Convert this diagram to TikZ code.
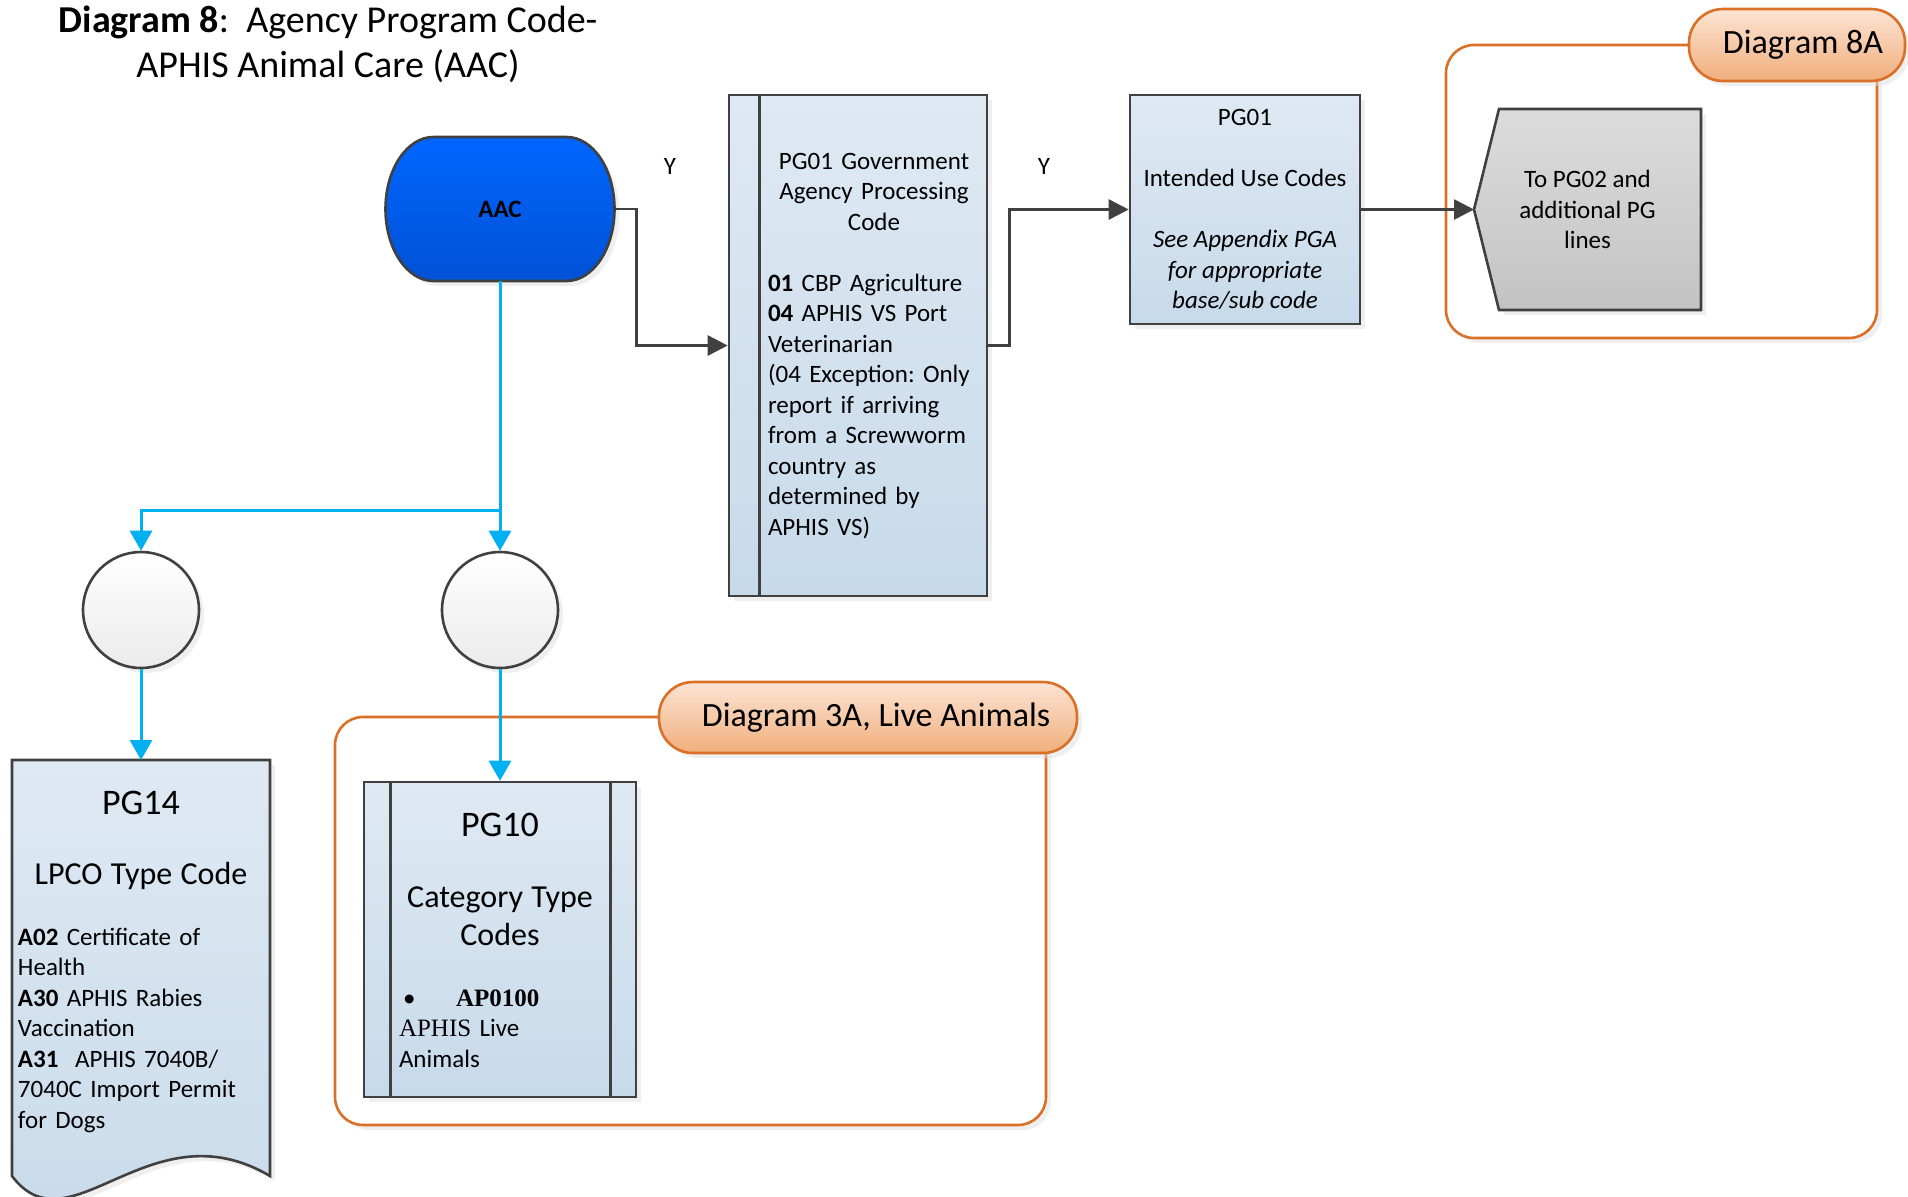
\documentclass[tikz,border=0pt]{standalone}
\usepackage{fontspec}
\setmainfont{Carlito}
\newfontfamily\timesfont{Liberation Serif}
\usetikzlibrary{arrows.meta,positioning,shadows}
\frenchspacing

\definecolor{ink}{HTML}{404040}
\definecolor{flow}{HTML}{00B0F0}
\definecolor{rim}{HTML}{DA7028}
\definecolor{boxtop}{HTML}{DFE9F3}
\definecolor{boxbot}{HTML}{C7DAEA}
\definecolor{tabtop}{HTML}{FCE4D4}
\definecolor{tabbot}{HTML}{F0AE7C}
\definecolor{aactop}{HTML}{0066FF}
\definecolor{aacbot}{HTML}{0052D6}
\definecolor{greytop}{HTML}{DCDCDC}
\definecolor{greybot}{HTML}{C3C3C3}

\begin{document}
\begin{tikzpicture}[x=0.5pt,y=-0.5pt,
  font=\fontsize{12.5}{15.25}\selectfont,
  lift/.style={drop shadow={shadow xshift=2.5pt,shadow yshift=-2.5pt,fill=black!12}},
  box/.style={draw=ink,line width=1.3pt,top color=boxtop,bottom color=boxbot,lift},
  zone/.style={draw=rim,line width=1.3pt,fill=white,rounded corners=14pt,lift},
  banner/.style={draw=rim,line width=1.3pt,top color=tabtop,bottom color=tabbot,rounded corners=17pt,font=\fontsize{17}{20}\selectfont,lift},
  knot/.style={circle,draw=ink,line width=1.3pt,top color=white,bottom color=black!8,minimum size=58pt,inner sep=0,lift},
  grip/.style={inner sep=0,outer sep=0},
  link/.style={draw=ink,line width=1.35pt,-{Triangle[length=10pt,width=10pt]}},
  flowline/.style={draw=flow,line width=1.5pt,-{Triangle[length=10pt,width=11pt]}}]

\useasboundingbox (0,0) rectangle (1908,1196);

\node[align=center,font=\fontsize{19}{22.5}\selectfont] (title) at (328,44) {{\bfseries Diagram 8}:\ \ Agency Program Code-\\APHIS Animal Care (AAC)};

\node[zone,minimum width=215.5pt,minimum height=146.5pt] (grp8a) at (1661.5,191.5) {};
\node[banner,minimum width=108pt,minimum height=36pt] (tab8a) at (1797,45) {\hspace*{6pt}Diagram 8A};
\node[zone,minimum width=355.5pt,minimum height=204pt] (grp3a) at (690.5,921) {};
\node[banner,minimum width=209pt,minimum height=35.5pt] (tab3a) at (868,717.5) {\hspace*{8pt}Diagram 3A, Live Animals};

\node[grip,minimum width=114.5pt,minimum height=72pt] (aac) at (500,209) {};
\shade[lift,draw=ink,line width=1.3pt,top color=aactop,bottom color=aacbot] ([xshift=24pt]aac.north west) -- ([xshift=-24pt]aac.north east) arc[start angle=90,end angle=-90,x radius=24pt,y radius=36pt] -- ([xshift=24pt]aac.south west) arc[start angle=270,end angle=90,x radius=24pt,y radius=36pt] -- cycle;
\node[font=\bfseries\fontsize{12.5}{15}\selectfont] (aactxt) at (aac) {AAC};

\node[box,minimum width=129pt,minimum height=250.5pt] (gapc) at (858,345.5) {};
\draw[ink,line width=1.3pt] ([xshift=16pt]gapc.north west) -- ([xshift=16pt]gapc.south west);
\node[text width=106pt,inner sep=0,align=left,anchor=base] (gapctext) at (874,169) {{\centering PG01 Government\\Agency Processing\\Code\par}\vspace{15.25pt}\textbf{01} CBP Agriculture\\\textbf{04} APHIS VS Port\\Veterinarian\\(04 Exception: Only\\report if arriving\\from a Screwworm\\country as\\determined by\\APHIS VS)};

\node[box,minimum width=115pt,minimum height=114.5pt,align=center] (usecode) at (1245,209.5) {PG01\\[15.25pt]Intended Use Codes\\[15.25pt]\textit{See Appendix PGA}\\\textit{for appropriate}\\\textit{base/sub code}};

\node[grip,minimum width=113.5pt,minimum height=100.5pt] (pg02) at (1587.5,209.5) {};
\shade[lift,draw=ink,line width=1.3pt,top color=greytop,bottom color=greybot] (pg02.west) -- ([xshift=12.5pt]pg02.north west) -- (pg02.north east) -- (pg02.south east) -- ([xshift=12.5pt]pg02.south west) -- cycle;
\node[align=center] (pg02txt) at (1587.5,209.5) {To PG02 and\\additional PG\\lines};

\node[knot] (cl1) at (141,610) {};
\node[knot] (cl2) at (500,610) {};

\node[grip,minimum width=129pt,minimum height=208pt] (pg14) at (141,968) {};
\shade[box] (pg14.south west) -- (pg14.north west) -- (pg14.north east) -- (pg14.south east) .. controls +(-120,-71) and +(58,77) .. (pg14.south west) -- cycle;
\node[text width=123pt,inner sep=0,align=left,anchor=base] (pg14txt) at (141,814) {{\centering\fontsize{18}{21}\selectfont PG14\par}{\centering\fontsize{16}{35}\selectfont LPCO Type Code\par}\vspace{15.25pt}\textbf{A02} Certificate of\\Health\\\textbf{A30} APHIS Rabies\\Vaccination\\\textbf{A31}\ \ APHIS 7040B/\\7040C Import Permit\\for Dogs};

\node[box,minimum width=136pt,minimum height=157.5pt] (pg10) at (500,939.5) {};
\draw[ink,line width=1.3pt] ([xshift=14pt]pg10.north west) -- ([xshift=14pt]pg10.south west);
\draw[ink,line width=1.3pt] ([xshift=-13.5pt]pg10.north east) -- ([xshift=-13.5pt]pg10.south east);
\node[text width=101pt,inner sep=0,align=left,anchor=base] (pg10txt) at (500,836) {{\centering\fontsize{18}{21}\selectfont PG10\par}\vspace{16.5pt}{\centering\fontsize{16}{19}\selectfont Category Type\\Codes\par}\vspace{15.25pt}\makebox[28.5pt][l]{\,•}{\timesfont\bfseries AP0100}\\{\timesfont APHIS} Live\\Animals};

\node (ylbl1) at (670,166) {Y};
\node (ylbl2) at (1044,166) {Y};

\draw[link] (aac.east) -- ++(22,0) |- (gapc.west);
\draw[link] (gapc.east) -- ++(21,0) |- (usecode.west);
\draw[link] (usecode.east) -- (pg02.west);
\draw[flowline] (aac.south) -- (cl2.north);
\draw[flowline] (aac.south) -- ++(0,229) -| (cl1.north);
\draw[flowline] (cl1.south) -- (pg14.north);
\draw[flowline] (cl2.south) -- (pg10.north);

\end{tikzpicture}
\end{document}
